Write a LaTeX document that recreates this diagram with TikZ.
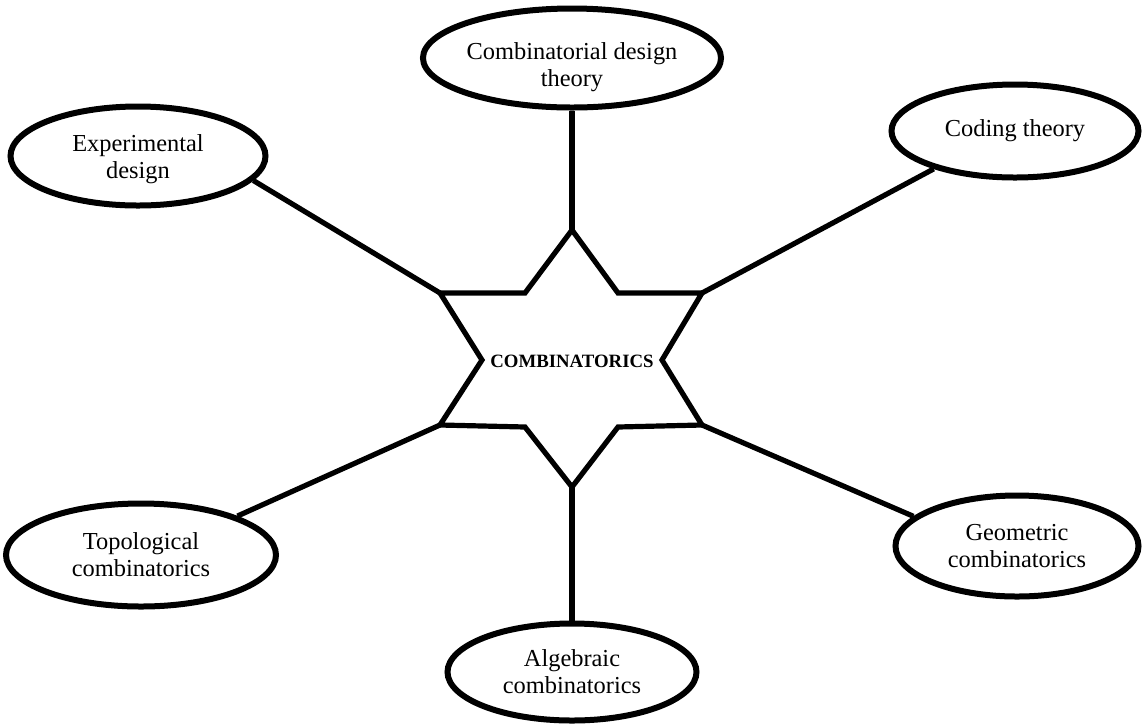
\documentclass[tikz,border=0pt]{standalone}
\usepackage{fontspec}
\setmainfont{Liberation Serif}
\usetikzlibrary{shapes.geometric}
\begin{document}
\begin{tikzpicture}[x=0.5pt,y=-0.5pt,
  topic/.style={ellipse, draw, line width=3pt, align=center, inner sep=0pt,
    font=\fontsize{12.2}{13.5}\selectfont},
  link/.style={line width=2.6pt},
  starline/.style={line width=2.6pt, line join=miter}]
\useasboundingbox (0,0) rectangle (1142,725);
% star vertices
\coordinate (sT) at (572,230);
\coordinate (iUR) at (618,293);
\coordinate (oUR) at (702,293);
\coordinate (iR) at (662,360);
\coordinate (oLR) at (702,425);
\coordinate (iLR) at (618,427);
\coordinate (sB) at (572,487);
\coordinate (iLL) at (525,427);
\coordinate (oLL) at (440,425);
\coordinate (iL) at (482,360);
\coordinate (oUL) at (440,293);
\coordinate (iUL) at (525,293);
\draw[starline] (sT) -- (iUR) -- (oUR) -- (iR) -- (oLR) -- (iLR) -- (sB) -- (iLL) -- (oLL) -- (iL) -- (oUL) -- (iUL) -- cycle;
\node[font=\fontsize{9.4}{10}\selectfont\bfseries] (center) at (572,361) {COMBINATORICS};
% topics
\node[topic, minimum width=123.5pt, minimum height=49.5pt] (cdt) at (572,58)
  {\raisebox{-5pt}[\height][\depth]{\begin{tabular}{@{}c@{}}Combinatorial design\\theory\end{tabular}}};
\node[topic, minimum width=127.5pt, minimum height=49.5pt] (exp) at (138,156) {\raisebox{-2pt}[\height][\depth]{\begin{tabular}{@{}c@{}}Experimental\\design\end{tabular}}};
\node[topic, minimum width=123.5pt, minimum height=46.5pt] (cod) at (1015,131) {Coding theory};
\node[topic, minimum width=135pt, minimum height=51.5pt] (top) at (141,555) {Topological\\combinatorics};
\node[topic, minimum width=121.5pt, minimum height=50.5pt] (geo) at (1017,546) {Geometric\\combinatorics};
\node[topic, minimum width=124.5pt, minimum height=48.5pt] (alg) at (572,672) {Algebraic\\combinatorics};
% connectors
\draw[link] (cdt.south) -- (sT);
\draw[link] (alg.north) -- (sB);
\draw[link] (exp.-12) -- (oUL);
\draw[link] (cod.-155) -- (oUR);
\draw[link] (top.22) -- (oLL);
\draw[link] (geo.164) -- (oLR);
\end{tikzpicture}
\end{document}
